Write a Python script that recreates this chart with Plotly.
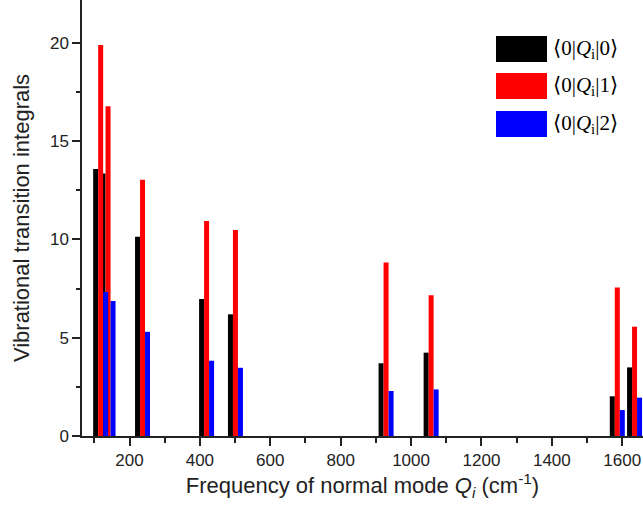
import plotly.graph_objects as go

# Data
freqs = [118, 139, 237, 419, 501, 929, 1057, 1586, 1635]
q00 = [13.58, 13.36, 10.14, 6.97, 6.19, 3.70, 4.24, 2.02, 3.49]
q01 = [19.89, 16.78, 13.04, 10.94, 10.48, 8.83, 7.16, 7.56, 5.56]
q02 = [7.32, 6.87, 5.30, 3.83, 3.47, 2.29, 2.37, 1.32, 1.95]
series_names = ["⟨0|<i>Q</i><sub>i</sub>|0⟩", "⟨0|<i>Q</i><sub>i</sub>|1⟩", "⟨0|<i>Q</i><sub>i</sub>|2⟩"]
colors = ["#000000", "#FF0000", "#0000FF"]

W, H = 643, 505
ML, MR, MT, MB = 82, 0, 0, 69
PW, PH = W - ML - MR, H - MT - MB

bar_w = 14.2
offsets = [-1.5 * bar_w, -0.5 * bar_w, 0.5 * bar_w]

fig = go.Figure()
for vals, name, col, off in zip([q00, q01, q02], series_names, colors, offsets):
    fig.add_trace(go.Bar(
        x=freqs, y=vals, name=name, width=bar_w, offset=off,
        marker=dict(color=col, line=dict(width=0)), showlegend=False))

def px2paper_x(px):
    return (px - ML) / PW

def px2paper_y(py):
    return 1 - (py - MT) / PH

shapes = []
annotations = []
rows = [(36, 62), (73, 99), (111, 137)]
for (y0, y1), name, col in zip(rows, series_names, colors):
    shapes.append(dict(type="rect", xref="paper", yref="paper",
                       x0=px2paper_x(496), x1=px2paper_x(547),
                       y0=px2paper_y(y1), y1=px2paper_y(y0),
                       fillcolor=col, line=dict(width=0)))
    annotations.append(dict(xref="paper", yref="paper", x=px2paper_x(551),
                            y=px2paper_y((y0 + y1) / 2), xanchor="left", yanchor="middle",
                            text=name, showarrow=False,
                            font=dict(family="Liberation Serif, DejaVu Serif", size=21, color="#000")))

axis_font = dict(family="Liberation Sans, Arial", size=17, color="#222")
title_font = dict(family="Liberation Sans, Arial", size=22, color="#222")
fig.update_layout(
    width=W, height=H,
    margin=dict(l=ML, r=MR, t=MT, b=MB, pad=0),
    paper_bgcolor="white", plot_bgcolor="white",
    barmode="overlay",
    shapes=shapes, annotations=annotations,
    font=dict(family="Liberation Sans, Arial", color="#222"),
    xaxis=dict(range=[65, 1659], tick0=0, dtick=200, ticks="outside", ticklen=8, tickwidth=1.5,
               tickcolor="#222", showline=True, linecolor="#222", linewidth=1.5, showgrid=False,
               zeroline=False, tickfont=axis_font,
               minor=dict(dtick=100, ticks="outside", ticklen=5, tickwidth=1.5, tickcolor="#222"),
               title=dict(text="Frequency of normal mode <i>Q<sub>i</sub></i> (cm<sup>-1</sup>)",
                          font=title_font, standoff=3)),
    yaxis=dict(range=[0, 22.18], tick0=0, dtick=5, ticks="outside", ticklen=8, tickwidth=1.5,
               tickcolor="#222", showline=True, linecolor="#222", linewidth=1.5, showgrid=False,
               zeroline=False, tickfont=axis_font,
               minor=dict(dtick=2.5, ticks="outside", ticklen=4, tickwidth=1.5, tickcolor="#222"),
               title=dict(text="Vibrational transition integrals",
                          font=title_font, standoff=14)),
)

fig.write_html("out.html")
